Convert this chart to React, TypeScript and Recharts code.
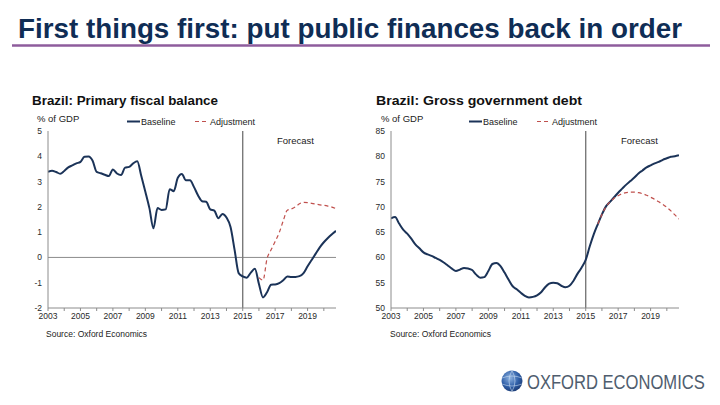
import React from 'react';
import { LineChart, Line, XAxis, YAxis, ReferenceLine } from 'recharts';

// Quarterly periods, 2003Q1 .. 2020Q4
const START_YEAR = 2003;
const QUARTERS = 72;
const yearTicks = [2003, 2004, 2005, 2006, 2007, 2008, 2009, 2010, 2011, 2012, 2013, 2014, 2015, 2016, 2017, 2018, 2019, 2020];

// Primary fiscal balance, % of GDP
const balanceBaseline = [
  3.39, 3.43, 3.38, 3.31, 3.42, 3.56, 3.64, 3.72,
  3.78, 3.98, 3.99, 3.82, 3.38, 3.33, 3.27, 3.22,
  3.48, 3.32, 3.26, 3.55, 3.58, 3.72, 3.8, 3.22,
  2.6, 1.95, 1.15, 1.95, 1.88, 1.9, 2.7, 2.62,
  3.15, 3.3, 3.05, 3.05, 2.78, 2.45, 2.22, 2.2,
  1.9, 1.85, 1.55, 1.72, 1.58, 1.2, 0.3, -0.62,
  -0.75, -0.8, -0.6, -0.45, -1.05, -1.58, -1.38, -1.08,
  -1.07, -1.02, -0.9, -0.75, -0.77, -0.77, -0.74, -0.62,
  -0.35, -0.1, 0.15, 0.4, 0.6, 0.77, 0.92, 1.05,
];
const balanceAdjustment: (number | null)[] = [
  null, null, null, null, null, null, null, null,
  null, null, null, null, null, null, null, null,
  null, null, null, null, null, null, null, null,
  null, null, null, null, null, null, null, null,
  null, null, null, null, null, null, null, null,
  null, null, null, null, null, null, null, null,
  null, null, null, null, -0.8, -0.9, -0.05, 0.3,
  0.63, 0.98, 1.45, 1.87, 1.92, 2.0, 2.12, 2.18,
  2.17, 2.14, 2.11, 2.08, 2.06, 2.03, 1.99, 1.93,
];

// Gross government debt, % of GDP
const debtBaseline = [
  67.7, 68.0, 66.7, 65.5, 64.7, 63.7, 62.6, 61.8,
  61.0, 60.6, 60.3, 59.9, 59.5, 59.0, 58.4, 57.8,
  57.3, 57.6, 57.9, 57.8, 57.5, 56.6, 56.0, 56.1,
  57.3, 58.7, 58.9, 58.3, 57.0, 55.6, 54.3, 53.7,
  53.0, 52.4, 52.1, 52.2, 52.5, 53.1, 54.1, 54.8,
  55.0, 54.9, 54.4, 54.1, 54.4, 55.4, 56.8, 58.0,
  59.5, 62.2, 64.6, 66.6, 68.5, 70.1, 71.0, 71.9,
  72.8, 73.6, 74.4, 75.1, 75.8, 76.6, 77.2, 77.8,
  78.2, 78.6, 78.9, 79.3, 79.6, 79.9, 80.0, 80.2,
];
const debtAdjustment: (number | null)[] = [
  null, null, null, null, null, null, null, null,
  null, null, null, null, null, null, null, null,
  null, null, null, null, null, null, null, null,
  null, null, null, null, null, null, null, null,
  null, null, null, null, null, null, null, null,
  null, null, null, null, null, null, null, null,
  null, null, null, 66.6, 68.5, 70.0, 71.0, 71.7,
  72.2, 72.6, 72.8, 72.9, 72.9, 72.8, 72.6, 72.3,
  71.9, 71.5, 71.0, 70.5, 69.9, 69.2, 68.4, 67.6,
];

const balanceTicks = [-2, -1, 0, 1, 2, 3, 4, 5];
const debtTicks = [50, 55, 60, 65, 70, 75, 80, 85];

const balanceData = Array.from({ length: QUARTERS }, (_, i) => ({
  t: START_YEAR + i * 0.25,
  base: balanceBaseline[i],
  adj: balanceAdjustment[i],
}));
const debtData = Array.from({ length: QUARTERS }, (_, i) => ({
  t: START_YEAR + i * 0.25,
  base: debtBaseline[i],
  adj: debtAdjustment[i],
}));

const FONT = '"Liberation Sans", Arial, sans-serif';
const NAVY = '#1b3358';
const RED = '#c0504d';
const AXIS = '#8c8c8c';
const TICK_STYLE = { fontSize: 8.5, fill: '#2a2a2a', fontFamily: FONT };

const yearFmt = (v: number) => (v % 2 === 1 ? String(v) : '');

function Panel({ data, domain, ticks, left, marginLeft, marginRight, zeroLine }: any) {
  return (
    <div style={{ position: 'absolute', left, top: 0 }}>
      <LineChart
        width={360}
        height={340}
        data={data}
        margin={{ top: 131, right: marginRight, bottom: 12, left: marginLeft }}
      >
        <XAxis
          type="number"
          dataKey="t"
          domain={[2003, 2020.75]}
          ticks={yearTicks}
          interval={0}
          tickFormatter={yearFmt}
          allowDataOverflow
          height={20}
          tickSize={3}
          tickMargin={2}
          stroke={AXIS}
          tick={TICK_STYLE}
        />
        <YAxis
          type="number"
          domain={domain}
          ticks={ticks}
          interval={0}
          width={30}
          tickLine={false}
          tickSize={5}
          tickMargin={1}
          stroke={AXIS}
          tick={TICK_STYLE}
          allowDataOverflow
        />
        {zeroLine && <ReferenceLine y={0} stroke={AXIS} strokeWidth={1} />}
        <ReferenceLine x={2015} stroke="#7a7a7a" strokeWidth={1.4} />
        <Line
          type="monotone"
          dataKey="base"
          stroke={NAVY}
          strokeWidth={2}
          dot={false}
          isAnimationActive={false}
        />
        <Line
          type="monotone"
          dataKey="adj"
          stroke={RED}
          strokeWidth={1.2}
          strokeDasharray="4 3"
          dot={false}
          connectNulls={false}
          isAnimationActive={false}
        />
      </LineChart>
    </div>
  );
}

function PanelLabels({ ox, title, titleLen, legendLineX, legendAdjX, forecastX }: any) {
  return (
    <g fontFamily={FONT}>
      <text x={ox} y={104.5} fontSize={12.5} fontWeight="bold" fill="#111" textLength={titleLen} lengthAdjust="spacingAndGlyphs">
        {title}
      </text>
      <text x={ox + 5} y={121.5} fontSize={9.5} fill="#222">% of GDP</text>
      <line x1={legendLineX} x2={legendLineX + 13} y1={121.5} y2={121.5} stroke={NAVY} strokeWidth={2} />
      <text x={legendLineX + 14} y={124.5} fontSize={9} fill="#222">Baseline</text>
      <line x1={legendAdjX} x2={legendAdjX + 14} y1={121.5} y2={121.5} stroke={RED} strokeWidth={1.2} strokeDasharray="4 3" />
      <text x={legendAdjX + 15} y={124.5} fontSize={9} fill="#222">Adjustment</text>
      <text x={forecastX} y={143.5} fontSize={9.5} fill="#222">Forecast</text>
      <text x={ox + 14} y={336.5} fontSize={8.5} fill="#222">Source: Oxford Economics</text>
    </g>
  );
}

export default function App() {
  return (
    <div style={{ position: 'absolute', left: 0, top: 0, width: 720, height: 405, background: '#fff', overflow: 'hidden' }}>
      <Panel data={balanceData} domain={[-2, 5]} ticks={balanceTicks} left={0} marginLeft={18} marginRight={24} zeroLine />
      <Panel data={debtData} domain={[50, 85]} ticks={debtTicks} left={360} marginLeft={1} marginRight={41} zeroLine={false} />
      <svg width={720} height={405} style={{ position: 'absolute', left: 0, top: 0, pointerEvents: 'none' }}>
        <defs>
          <radialGradient id="globe" cx="40%" cy="35%" r="70%">
            <stop offset="0%" stopColor="#8fb3e0" />
            <stop offset="60%" stopColor="#2f5fa8" />
            <stop offset="100%" stopColor="#1c3a72" />
          </radialGradient>
        </defs>
        <text
          x={18}
          y={37.7}
          fontFamily={FONT}
          fontSize={27}
          fontWeight="bold"
          fill="#0f2d55"
          textLength={664}
          lengthAdjust="spacingAndGlyphs"
        >
          First things first: put public finances back in order
        </text>
        <line x1={12} x2={710} y1={45.5} y2={45.5} stroke="#8e5c9c" strokeWidth={2.5} />
        <PanelLabels ox={32} title="Brazil: Primary fiscal balance" titleLen={186} legendLineX={127} legendAdjX={195} forecastX={277} />
        <PanelLabels ox={376} title="Brazil: Gross government debt" titleLen={206} legendLineX={469} legendAdjX={537} forecastX={621} />
        <circle cx={512} cy={381} r={10.5} fill="url(#globe)" />
        <path d="M502 378 Q512 374 522 378 M502 384 Q512 388 522 384 M512 370.5 Q506 381 512 391.5 M512 370.5 Q518 381 512 391.5" stroke="#cfe0f5" strokeWidth={0.8} fill="none" opacity={0.7} />
        <g transform="translate(527,389) scale(0.83,1)">
          <text x={0} y={0} fontFamily={FONT} fontSize={20} fill="#4f5d6e">
            OXFORD ECONOMICS
          </text>
        </g>
      </svg>
    </div>
  );
}
